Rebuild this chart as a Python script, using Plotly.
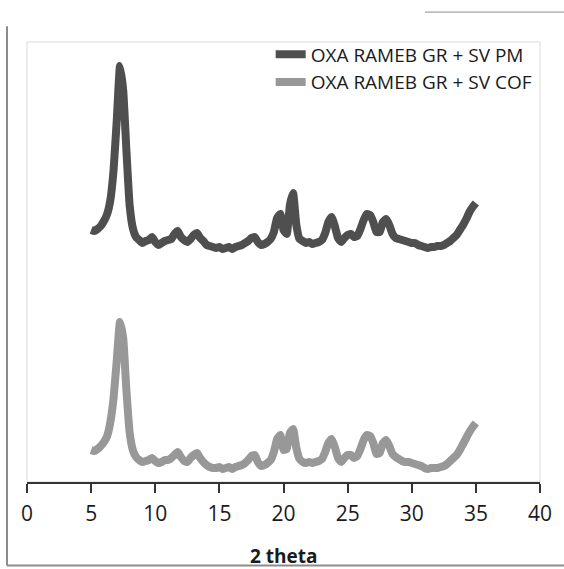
import plotly.graph_objects as go

# 2-theta grid (degrees)
two_theta = [5.0 + 0.25 * i for i in range(121)]

# Intensity (arbitrary units) — OXA RAMEB GR + SV PM (upper trace)
pm_intensity = [
    252, 251, 253, 256, 261, 268, 282, 312, 362, 416,
    392, 332, 277, 254, 245, 242, 239, 241, 242, 245,
    240, 237, 239, 241, 242, 243, 248, 251, 245, 242,
    240, 243, 247, 249, 244, 241, 237, 236, 235, 234,
    235, 233, 234, 235, 233, 235, 236, 237, 239, 241,
    244, 245, 240, 237, 238, 240, 243, 250, 264, 268,
    252, 248, 277, 289, 257, 243, 241, 239, 240, 238,
    239, 240, 242, 249, 260, 265, 256, 244, 240, 244,
    247, 248, 245, 246, 253, 262, 268, 267, 260, 250,
    250, 260, 263, 257, 248, 244, 243, 242, 241, 240,
    239, 239, 237, 236, 235, 234, 235, 235, 236, 236,
    237, 239, 241, 244, 247, 252, 257, 263, 270, 275,
    279,
]

# Intensity — OXA RAMEB GR + SV COF (lower trace)
cof_intensity = [
    32, 31, 33, 36, 40, 46, 60, 84, 122, 160,
    144, 92, 50, 32, 25, 22, 20, 21, 22, 24,
    21, 19, 20, 22, 22, 24, 27, 30, 25, 21,
    20, 24, 27, 29, 24, 20, 17, 15, 14, 14,
    15, 13, 14, 15, 13, 15, 16, 17, 19, 22,
    26, 27, 20, 16, 17, 19, 22, 30, 43, 47,
    32, 33, 49, 53, 34, 23, 20, 19, 20, 19,
    20, 21, 23, 30, 39, 43, 35, 24, 20, 24,
    27, 27, 24, 26, 33, 42, 47, 46, 39, 28,
    29, 39, 42, 36, 28, 25, 23, 21, 20, 20,
    19, 18, 17, 16, 14, 13, 14, 14, 14, 15,
    16, 18, 21, 24, 27, 32, 38, 44, 50, 55,
    59,
]

series_names = ["OXA RAMEB GR + SV PM", "OXA RAMEB GR + SV COF"]
series_colors = ["#4f4f4f", "#989898"]
x_ticks = [0, 5, 10, 15, 20, 25, 30, 35, 40]
x_title = "<b>2 theta</b>"

fig = go.Figure()
for name, vals, col in zip(series_names, [pm_intensity, cof_intensity], series_colors):
    fig.add_trace(go.Scatter(
        x=two_theta, y=vals, mode="lines", name=name,
        line=dict(color=col, width=8, shape="spline", smoothing=0.4),
    ))

fig.update_layout(
    width=564, height=569,
    margin=dict(l=27, r=24, t=42, b=87, autoexpand=False),
    paper_bgcolor="white", plot_bgcolor="white",
    font=dict(family="Open Sans", color="#1a1a1a"),
    showlegend=True,
    legend=dict(
        x=0.475, y=1.015, xanchor="left", yanchor="top",
        bgcolor="rgba(0,0,0,0)", font=dict(size=19, color="#1a1a1a"),
        tracegroupgap=0, itemwidth=30,
    ),
    xaxis=dict(
        range=[0, 40], tickvals=x_ticks, ticktext=[str(t) for t in x_ticks],
        showline=True, linecolor="#333333", linewidth=2,
        ticks="outside", ticklen=9, tickwidth=2, tickcolor="#333333",
        ticklabelstandoff=3, automargin=False,
        showgrid=False, zeroline=False,
        tickfont=dict(size=21, color="#1a1a1a"),
    ),
    yaxis=dict(range=[0, 440], visible=False, showgrid=False, zeroline=False, automargin=False),
    annotations=[
        dict(text=x_title, xref="paper", yref="paper", x=0.5, y=-0.168,
             xanchor="center", yanchor="middle", showarrow=False,
             font=dict(size=19, color="#1a1a1a")),
    ],
    shapes=[
        dict(type="rect", xref="paper", yref="paper", x0=0, y0=0, x1=1, y1=1,
             line=dict(color="#d9d9d9", width=1), layer="below"),
        dict(type="line", xref="paper", yref="paper", x0=-0.039, y0=1.036, x1=-0.039, y1=-0.19,
             line=dict(color="#8c8c8c", width=2)),
        dict(type="line", xref="paper", yref="paper", x0=-0.039, y0=-0.19, x1=1.05, y1=-0.19,
             line=dict(color="#8c8c8c", width=2)),
        dict(type="line", xref="paper", yref="paper", x0=0.776, y0=1.068, x1=1.05, y1=1.068,
             line=dict(color="#8c8c8c", width=1)),
    ],
)

fig.write_html("out.html")
